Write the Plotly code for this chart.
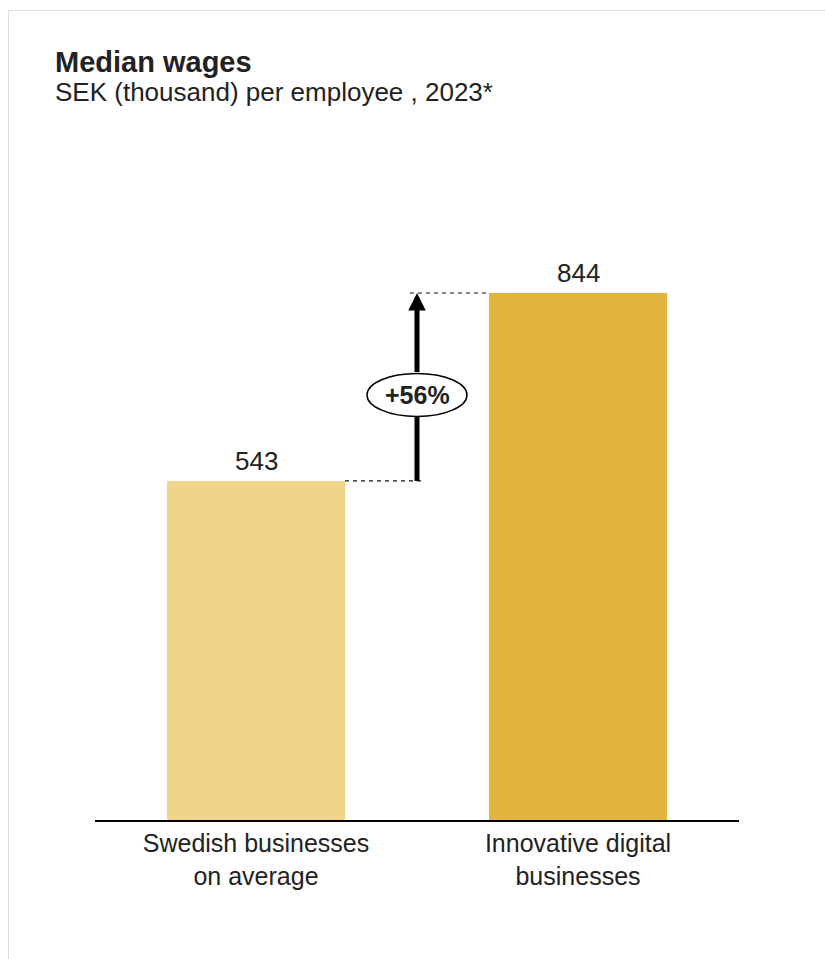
import plotly.graph_objects as go

# Data
categories = ["Swedish businesses<br>on average", "Innovative digital<br>businesses"]
values = [543, 844]
bar_colors = ["#F0D48A", "#E2B63C"]
increase_label = "+56%"

title_text = "Median wages"
subtitle_text = "SEK (thousand) per employee , 2023*"

# Layout geometry (pixels)
W, H = 825, 959
L, R, T, B = 95, 86, 150, 139
PW, PH = W - L - R, H - T - B
Y_MAX = 1073
BAR_WIDTH = 0.553
FONT = "Liberation Sans, Arial, Helvetica, sans-serif"
TEXT_COLOR = "#222222"


def px_x(px):
    return (px - L) / PW


def px_y(py):
    return (H - B - py) / PH


fig = go.Figure(
    go.Bar(
        x=[0, 1],
        y=values,
        width=BAR_WIDTH,
        marker=dict(color=bar_colors, line=dict(width=0)),
        hoverinfo="skip",
    )
)

annotations = []
shapes = []

# Value labels above bars
for i, v in enumerate(values):
    annotations.append(dict(
        x=i, y=v, xref="x", yref="y", text=str(v), showarrow=False,
        yanchor="bottom", yshift=3,
        font=dict(family=FONT, size=26, color=TEXT_COLOR),
    ))

a, b = values
x_mid = 0.5
mid = (a + b) / 2
ell_shift = -8      # ellipse offset from midpoint (px)
ell_hw, ell_hh = 50, 21.5

# Dashed guide lines
shapes.append(dict(type="line", xref="x", yref="y", x0=BAR_WIDTH / 2, x1=0.525,
                   y0=a, y1=a, line=dict(color="#111111", width=1.2, dash="4px,4px")))
shapes.append(dict(type="line", xref="x", yref="y", x0=0.478, x1=1 - BAR_WIDTH / 2,
                   y0=b, y1=b, line=dict(color="#111111", width=1.2, dash="4px,4px")))

# Lower shaft of the arrow (from the lower bar level up to the ellipse)
shaft_px = (b - a) * PH / Y_MAX / 2 + ell_shift - ell_hh
shapes.append(dict(type="line", xref="x", yref="y", x0=x_mid, x1=x_mid,
                   ysizemode="pixel", yanchor=a, y0=0, y1=shaft_px,
                   line=dict(color="black", width=5)))

# Ellipse around percentage label
shapes.append(dict(type="circle", xref="x", yref="y",
                   xsizemode="pixel", xanchor=x_mid, x0=-ell_hw, x1=ell_hw,
                   ysizemode="pixel", yanchor=mid, y0=ell_shift - ell_hh, y1=ell_shift + ell_hh,
                   fillcolor="white", line=dict(color="black", width=1.5)))

# Upper part of the arrow with head
upper_px = (b - a) * PH / Y_MAX / 2 - ell_shift - ell_hh
annotations.append(dict(
    x=x_mid, y=b, xref="x", yref="y", text="", showarrow=True,
    ax=0, ay=upper_px, arrowhead=2, arrowsize=0.7, arrowwidth=5,
    arrowcolor="black", standoff=0, startstandoff=0,
))

annotations.append(dict(
    x=x_mid, y=mid, xref="x", yref="y", text="<b>" + increase_label + "</b>",
    showarrow=False, yshift=ell_shift,
    font=dict(family=FONT, size=25, color=TEXT_COLOR),
))

# Title and subtitle
annotations.append(dict(
    x=px_x(53), y=px_y(62), xref="paper", yref="paper", text="<b>" + title_text + "</b>",
    showarrow=False, xanchor="left", yanchor="middle",
    font=dict(family=FONT, size=29, color=TEXT_COLOR),
))
annotations.append(dict(
    x=px_x(53), y=px_y(92), xref="paper", yref="paper", text=subtitle_text,
    showarrow=False, xanchor="left", yanchor="middle",
    font=dict(family=FONT, size=26, color=TEXT_COLOR),
))

# Frame lines (top and left)
shapes.append(dict(type="line", xref="paper", yref="paper",
                   x0=px_x(8), x1=px_x(W), y0=px_y(10.5), y1=px_y(10.5),
                   line=dict(color="#DCDCDC", width=1)))
shapes.append(dict(type="line", xref="paper", yref="paper",
                   x0=px_x(8.5), x1=px_x(8.5), y0=px_y(10), y1=px_y(H),
                   line=dict(color="#DCDCDC", width=1)))

fig.update_layout(
    width=W, height=H,
    margin=dict(l=L, r=R, t=T, b=B, pad=0),
    paper_bgcolor="white", plot_bgcolor="white",
    showlegend=False,
    annotations=annotations,
    shapes=shapes,
    xaxis=dict(
        range=[-0.5, 1.5], tickvals=[0, 1], ticktext=categories,
        showline=True, linecolor="black", linewidth=2, showgrid=False,
        zeroline=False, ticks="", fixedrange=True,
        tickfont=dict(family=FONT, size=25, color=TEXT_COLOR),
    ),
    yaxis=dict(
        range=[0, Y_MAX], visible=False, showgrid=False, zeroline=False,
        fixedrange=True,
    ),
)

fig.write_html("out.html")
